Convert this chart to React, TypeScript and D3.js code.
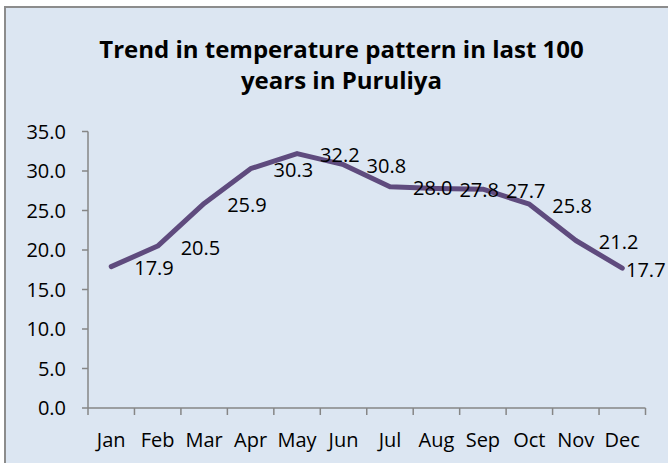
import React from "react";
import * as d3 from "d3";

const months = ["Jan", "Feb", "Mar", "Apr", "May", "Jun", "Jul", "Aug", "Sep", "Oct", "Nov", "Dec"];
const temps = [17.9, 20.5, 25.9, 30.3, 32.2, 30.8, 28.0, 27.8, 27.7, 25.8, 21.2, 17.7];
const yTicks = [0, 5, 10, 15, 20, 25, 30, 35];
const titleLines = ["Trend in temperature pattern in last 100", "years in Puruliya"];

const WIDTH = 668;
const HEIGHT = 463;
const FONT = "'Open Sans', Lato, sans-serif";
const AXIS = "#868686";

export default function App() {
    const margin = { top: 131.5, right: 22.5, bottom: 55, left: 88 };

    const x = d3.scaleBand<string>()
        .domain(months)
        .range([margin.left, WIDTH - margin.right]);

    const y = d3.scaleLinear([0, 35], [HEIGHT - margin.bottom, margin.top]);

    const line = d3.line<number>()
        .x((d, i) => x(months[i])! + x.bandwidth() / 2)
        .y((d) => y(d));

    // labels that would run off the right edge get pushed back in (like Excel does)
    const labelWidth = 42;

    return <svg width={WIDTH} height={HEIGHT}
        style={{ position: "absolute", left: 0, top: 0, display: "block" }}>
        <rect x={0} y={0} width={WIDTH} height={HEIGHT} fill="#ffffff" />
        {/* chart box, cropped at the right and bottom */}
        <rect x={5} y={7} width={WIDTH} height={HEIGHT} fill="#DCE6F2" stroke="#8C8C8C" strokeWidth={2} />

        <g fontFamily={FONT} fontWeight="bold" fontSize={24} textAnchor="middle" fill="#000">
            {titleLines.map((t, i) => (
                <text key={i} x={341.5} y={58 + i * 31}>{t}</text>
            ))}
        </g>

        <g name="yAxis">
            <line x1={margin.left} x2={margin.left} y1={y(0)} y2={y(35)} stroke={AXIS} strokeWidth={1.5} />
            {yTicks.map((tick) => (
                <g key={tick}>
                    <line x1={margin.left - 6} x2={margin.left} y1={y(tick)} y2={y(tick)} stroke={AXIS} strokeWidth={1.5} />
                    <text x={66} y={y(tick)} dy="0.35em" textAnchor="end"
                        fontFamily={FONT} fontSize={20} fill="#000">{tick.toFixed(1)}</text>
                </g>
            ))}
        </g>

        <g name="xAxis">
            <line x1={margin.left} x2={WIDTH - margin.right} y1={y(0)} y2={y(0)} stroke={AXIS} strokeWidth={1.5} />
            {[...months.map((m) => x(m)!), WIDTH - margin.right].map((px, i) => (
                <line key={i} x1={px} x2={px} y1={y(0)} y2={y(0) + 7} stroke={AXIS} strokeWidth={1.5} />
            ))}
            {months.map((m) => (
                <text key={m} x={x(m)! + x.bandwidth() / 2} y={y(0) + 39} textAnchor="middle"
                    fontFamily={FONT} fontSize={20} fill="#000">{m}</text>
            ))}
        </g>

        <path d={line(temps)!} fill="none" stroke="#5F4B7E" strokeWidth={5}
            strokeLinejoin="round" strokeLinecap="round" />

        <g name="labels" fontFamily={FONT} fontSize={20} fill="#000">
            {temps.map((v, i) => {
                const px = x(months[i])! + x.bandwidth() / 2;
                const lx = Math.min(px + 23, WIDTH - labelWidth);
                return <text key={i} x={lx} y={y(v) + 1.5} dy="0.35em">{v.toFixed(1)}</text>;
            })}
        </g>
    </svg>;
}
